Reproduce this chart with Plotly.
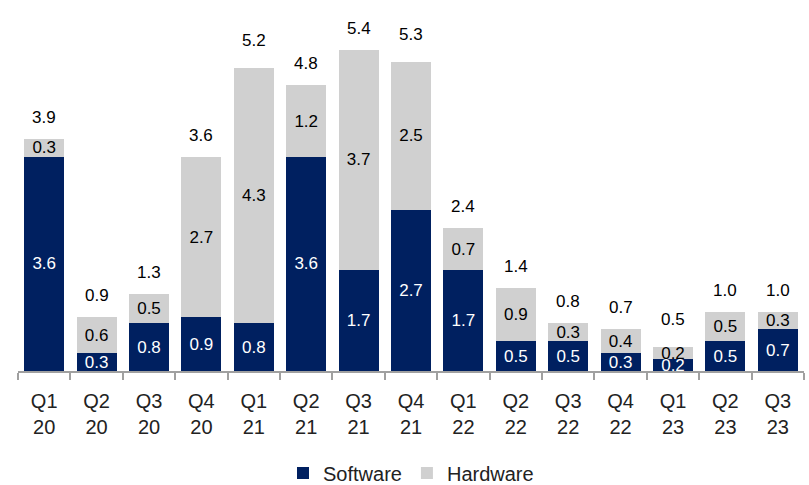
import plotly.graph_objects as go

quarters = ["Q1<br>20", "Q2<br>20", "Q3<br>20", "Q4<br>20", "Q1<br>21", "Q2<br>21", "Q3<br>21",
            "Q4<br>21", "Q1<br>22", "Q2<br>22", "Q3<br>22", "Q4<br>22", "Q1<br>23", "Q2<br>23", "Q3<br>23"]
software = [3.6, 0.3, 0.8, 0.9, 0.8, 3.6, 1.7, 2.7, 1.7, 0.5, 0.5, 0.3, 0.2, 0.5, 0.7]
hardware = [0.3, 0.6, 0.5, 2.7, 4.3, 1.2, 3.7, 2.5, 0.7, 0.9, 0.3, 0.4, 0.2, 0.5, 0.3]
totals = [3.9, 0.9, 1.3, 3.6, 5.2, 4.8, 5.4, 5.3, 2.4, 1.4, 0.8, 0.7, 0.5, 1.0, 1.0]

NAVY = "#002060"
GRAY = "#D0D0D0"
FONT = "Liberation Sans, Arial, sans-serif"
LBL = 17

fig = go.Figure()
fig.add_trace(go.Bar(
    x=quarters, y=software, name="Software", marker=dict(color=NAVY, line=dict(width=0)),
    text=[f"{v:.1f}" for v in software], textposition="inside", insidetextanchor="middle",
    textangle=0, textfont=dict(color="white", size=LBL, family=FONT), cliponaxis=False,
))
fig.add_trace(go.Bar(
    x=quarters, y=hardware, name="Hardware", marker=dict(color=GRAY, line=dict(width=0)),
    text=[f"{v:.1f}" for v in hardware], textposition="inside", insidetextanchor="middle",
    textangle=0, textfont=dict(color="black", size=LBL, family=FONT), cliponaxis=False,
))

stack_tops = [s + h for s, h in zip(software, hardware)]
for q, top, t in zip(quarters, stack_tops, totals):
    fig.add_annotation(x=q, y=max(top, t), text=f"{t:.1f}", showarrow=False,
                       yanchor="bottom", yshift=10,
                       font=dict(size=LBL, color="black", family=FONT))

fig.update_layout(
    barmode="stack", bargap=0.235,
    width=809, height=485,
    margin=dict(l=18, r=5, t=14, b=114, autoexpand=False),
    paper_bgcolor="white", plot_bgcolor="white",
    font=dict(family=FONT, size=LBL, color="#222"),
    uniformtext=dict(minsize=LBL, mode="show"),
    showlegend=True,
    legend=dict(orientation="h", x=0.5, xanchor="center", y=-0.286, yanchor="middle",
                traceorder="normal",
                font=dict(size=20, color="#222", family=FONT), itemwidth=30),
    xaxis=dict(showline=True, linecolor="#A0A0A0", linewidth=1.5, ticks="outside",
               tickson="boundaries", ticklen=7, tickcolor="#A0A0A0", tickwidth=1.5,
               automargin=False, ticklabelstandoff=11,
               tickfont=dict(size=20, color="#222", family=FONT), showgrid=False),
    yaxis=dict(range=[0, 6], visible=False, showgrid=False, zeroline=False),
)

fig.write_html("out.html", config={"displayModeBar": False},
               post_script="document.body.style.margin='0';")
